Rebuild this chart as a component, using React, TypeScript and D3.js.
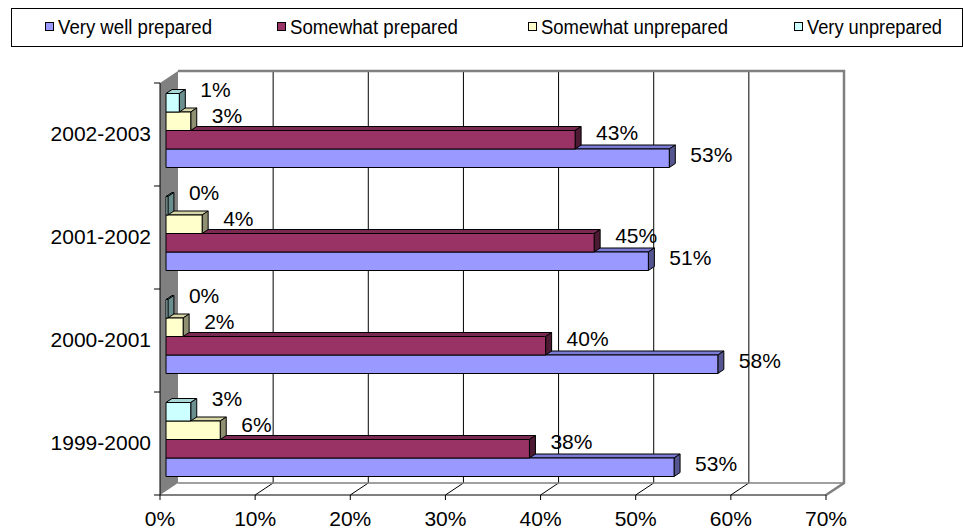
import React from "react";
import * as d3 from "d3";

const categories = ["2002-2003", "2001-2002", "2000-2001", "1999-2000"];
const seriesNames = ["Very well prepared", "Somewhat prepared", "Somewhat unprepared", "Very unprepared"];
const veryWell = [52.9, 50.7, 58.0, 53.4];
const somewhatPrep = [43.0, 45.0, 39.9, 38.2];
const somewhatUnprep = [2.6, 3.8, 1.8, 5.7];
const veryUnprep = [1.4, 0.2, 0.2, 2.6];
const xTicks = [0, 10, 20, 30, 40, 50, 60, 70];

const seriesValues = [veryWell, somewhatPrep, somewhatUnprep, veryUnprep];
const colors = [
  { front: "#9999FF", top: "#7B7BD6", side: "#55558F" },
  { front: "#993366", top: "#7A2952", side: "#4D1A33" },
  { front: "#FFFFCC", top: "#D6D6A8", side: "#8F8F72" },
  { front: "#CCFFFF", top: "#A8D6D6", side: "#6B8F8F" },
];
// vertical label offset per series (style)
const labelShift = [-4, -7, -6, -13];

const W = 963;
const H = 531;
const DX = 18; // wall depth
const DY = -12;
const BDX = 6; // bar plane offset
const BDY = -4;
const FONT = "'Liberation Sans', Arial, sans-serif";

export default function App() {
  const x = d3.scaleLinear().domain([0, 70]).range([160, 826]);
  const y = d3.scaleBand<string>().domain(categories).range([83, 495]).padding(0);
  const yTop = 83, yBot = 495;
  const bw = 18.5;

  const legendItems = [
    { start: 58, end: 212 },
    { start: 290, end: 458 },
    { start: 541, end: 728 },
    { start: 807, end: 942 },
  ];

  const bars: any[] = [];
  const labels: any[] = [];
  categories.forEach((cat, ci) => {
    const center = (y(cat) as number) + y.bandwidth() / 2 + BDY;
    const inner = d3
      .scaleBand<number>()
      .domain([3, 2, 1, 0])
      .range([center - 2 * bw, center + 2 * bw]);
    [0, 1, 2, 3].forEach((si) => {
      const v = seriesValues[si][ci];
      const t = inner(si) as number;
      const b = t + inner.bandwidth();
      const x0 = x(0) + BDX;
      const x1 = x(v) + BDX;
      const c = colors[si];
      bars.push(
        <g key={`b-${ci}-${si}`} stroke="#000" strokeWidth={1} strokeLinejoin="round">
          <polygon
            points={`${x0},${t} ${x1},${t} ${x1 + BDX},${t + BDY} ${x0 + BDX},${t + BDY}`}
            fill={c.top}
          />
          <polygon
            points={`${x1},${t} ${x1 + BDX},${t + BDY} ${x1 + BDX},${b + BDY} ${x1},${b}`}
            fill={c.side}
          />
          {x1 - x0 > 0.5 && <rect x={x0} y={t} width={x1 - x0} height={b - t} fill={c.front} />}
        </g>
      );
      labels.push(
        <text
          key={`l-${ci}-${si}`}
          x={x1 + 21}
          y={(t + b) / 2 + labelShift[si]}
          dy="0.35em"
          fontSize={21}
          fontFamily={FONT}
          fill="#000"
        >
          {`${Math.round(v)}%`}
        </text>
      );
    });
  });

  return (
    <svg width={W} height={H} style={{ position: "absolute", left: 0, top: 0, background: "#fff" }}>
      <rect x={0} y={0} width={W} height={H} fill="#fff" />
      {/* Legend */}
      <rect x={11.5} y={8.5} width={951} height={38} fill="#fff" stroke="#000" strokeWidth={1} />
      {seriesNames.map((name, i) => (
        <g key={name}>
          <rect
            x={legendItems[i].start - 12.5}
            y={22.5}
            width={8}
            height={8}
            fill={colors[i].front}
            stroke="#000"
            strokeWidth={1}
          />
          <text
            x={legendItems[i].start}
            y={33.5}
            fontSize={19.5}
            fontFamily={FONT}
            textLength={legendItems[i].end - legendItems[i].start}
            lengthAdjust="spacingAndGlyphs"
          >
            {name}
          </text>
        </g>
      ))}

      {/* Back wall */}
      <rect x={x(0) + DX} y={yTop + DY} width={x(70) - x(0)} height={yBot - yTop} fill="#fff" />
      {/* Left wall */}
      <polygon
        points={`${x(0)},${yTop} ${x(0) + DX},${yTop + DY} ${x(0) + DX},${yBot + DY} ${x(0)},${yBot}`}
        fill="#808080"
      />
      {/* Gridlines on back wall */}
      {xTicks.slice(1, -1).map((v) => (
        <line key={`g-${v}`} x1={x(v) + DX} x2={x(v) + DX} y1={yTop + DY} y2={yBot + DY} stroke="#000" strokeWidth={1} />
      ))}
      {/* Floor diagonals */}
      {xTicks.slice(1, -1).map((v) => (
        <line key={`f-${v}`} x1={x(v)} y1={yBot} x2={x(v) + DX} y2={yBot + DY} stroke="#000" strokeWidth={1} />
      ))}
      {/* Back wall border (gray) */}
      <polyline
        points={`${x(0) + DX},${yTop + DY} ${x(70) + DX},${yTop + DY} ${x(70) + DX},${yBot + DY} ${x(70)},${yBot}`}
        fill="none"
        stroke="#808080"
        strokeWidth={2.5}
      />
      <line x1={x(0) + DX} x2={x(70) + DX} y1={yBot + DY} y2={yBot + DY} stroke="#808080" strokeWidth={1.5} />

      {/* Bars */}
      {bars}

      {/* Axes */}
      <line x1={x(0)} x2={x(0)} y1={yTop} y2={yBot} stroke="#000" strokeWidth={1} />
      <line x1={x(0)} x2={x(70)} y1={yBot} y2={yBot} stroke="#000" strokeWidth={1} />
      {xTicks.map((v) => (
        <g key={`xt-${v}`}>
          <line x1={x(v)} x2={x(v)} y1={yBot} y2={yBot + 5} stroke="#000" strokeWidth={1} />
          <text x={x(v)} y={526} textAnchor="middle" fontSize={21} fontFamily={FONT}>
            {`${v}%`}
          </text>
        </g>
      ))}
      {[...categories.map((c) => y(c) as number), yBot].map((yy, i) => (
        <line key={`yt-${i}`} x1={x(0) - 6} x2={x(0)} y1={yy} y2={yy} stroke="#000" strokeWidth={1} />
      ))}
      {categories.map((c) => (
        <text
          key={`yl-${c}`}
          x={151}
          y={(y(c) as number) + y.bandwidth() / 2 - 1}
          dy="0.35em"
          textAnchor="end"
          fontSize={21}
          fontFamily={FONT}
        >
          {c}
        </text>
      ))}

      {/* Data labels */}
      {labels}
    </svg>
  );
}
